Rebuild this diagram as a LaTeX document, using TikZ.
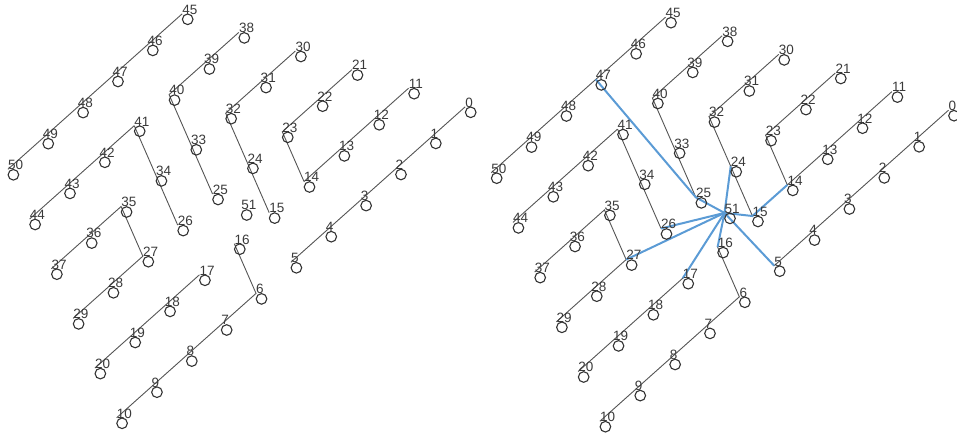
\documentclass[tikz,border=0pt]{standalone}
\usepackage{fontspec}
\setmainfont{Liberation Sans}
\usetikzlibrary{calc}
\definecolor{vcol}{HTML}{333333}
\definecolor{lcol}{HTML}{3A3A3A}
\definecolor{ecol}{HTML}{555555}
\definecolor{bcol}{HTML}{5B9BD5}
\begin{document}
\begin{tikzpicture}[x=1pt,y=-1pt,
  vtx/.style={circle, draw=vcol, line width=1.1pt, minimum size=10.6pt, inner sep=0pt},
  lbl/.style={anchor=base west, inner sep=0pt, text=lcol, font=\fontsize{13.5}{14}\selectfont},
  link/.style={draw=ecol, line width=0.9pt},
  hublink/.style={draw=bcol, line width=2pt}]
\useasboundingbox (0,0) rectangle (957,439);

% vertex points on the skewed grid: row j, position i
\foreach \n/\i/\j in {45/0/0,46/1/0,47/2/0,48/3/0,49/4/0,50/5/0,
  38/0/1,39/1/1,40/2/1,41/3/1,42/4/1,43/5/1,44/6/1,
  30/0/2,31/1/2,32/2/2,33/3/2,34/4/2,35/5/2,36/6/2,37/7/2,
  21/0/3,22/1/3,23/2/3,24/3/3,25/4/3,26/5/3,27/6/3,28/7/3,29/8/3,
  11/0/4,12/1/4,13/2/4,14/3/4,15/4/4,16/5/4,17/6/4,18/7/4,19/8/4,20/9/4,
  0/0/5,1/1/5,2/2/5,3/3/5,4/4/5,5/5/5,6/6/5,7/7/5,8/8/5,9/9/5,10/10/5}{
  \coordinate (L\n) at ({182.2-34.86*\i+56.6*\j},{13.8+31.1*\i+18.6*\j});
  \coordinate (R\n) at ($(L\n)+(483.3,3.4)$);
}
\coordinate (L51) at (241.2,209.5);
\coordinate (R51) at ($(L51)+(483.3,3.4)$);

% black connectors, same in both layouts
\foreach \p in {L,R}{
  \draw[link] (\p45) -- (\p46) -- (\p47) -- (\p48) -- (\p49) -- (\p50);
  \draw[link] (\p38) -- (\p39) -- (\p40) -- (\p33) -- (\p25);
  \draw[link] (\p41) -- (\p42) -- (\p43) -- (\p44);
  \draw[link] (\p41) -- (\p34) -- (\p26);
  \draw[link] (\p30) -- (\p31) -- (\p32) -- (\p24) -- (\p15);
  \draw[link] (\p37) -- (\p36) -- (\p35) -- (\p27) -- (\p28) -- (\p29);
  \draw[link] (\p21) -- (\p22) -- (\p23) -- (\p14);
  \draw[link] (\p11) -- (\p12) -- (\p13) -- (\p14);
  \draw[link] (\p17) -- (\p18) -- (\p19) -- (\p20);
  \draw[link] (\p0) -- (\p1) -- (\p2) -- (\p3) -- (\p4) -- (\p5);
  \draw[link] (\p16) -- (\p6) -- (\p7) -- (\p8) -- (\p9) -- (\p10);
}

% blue connectors around vertex 51
\draw[hublink] (R47) -- (R25) -- (R51);
\draw[hublink] (R14) -- (R15) -- (R51);
\foreach \t in {24,5,16,17,27,26}{
  \draw[hublink] (R51) -- (R\t);
}

% vertex circles and their numbers
\foreach \p in {L,R}{
  \foreach \n in {0,...,51}{
    \node[vtx] (c\p\n) at ($(\p\n)+(5.5,5.5)$) {};
    \node[lbl] (t\p\n) at ($(\p\n)+(0,0.3)$) {\n};
  }
}
\end{tikzpicture}
\end{document}
